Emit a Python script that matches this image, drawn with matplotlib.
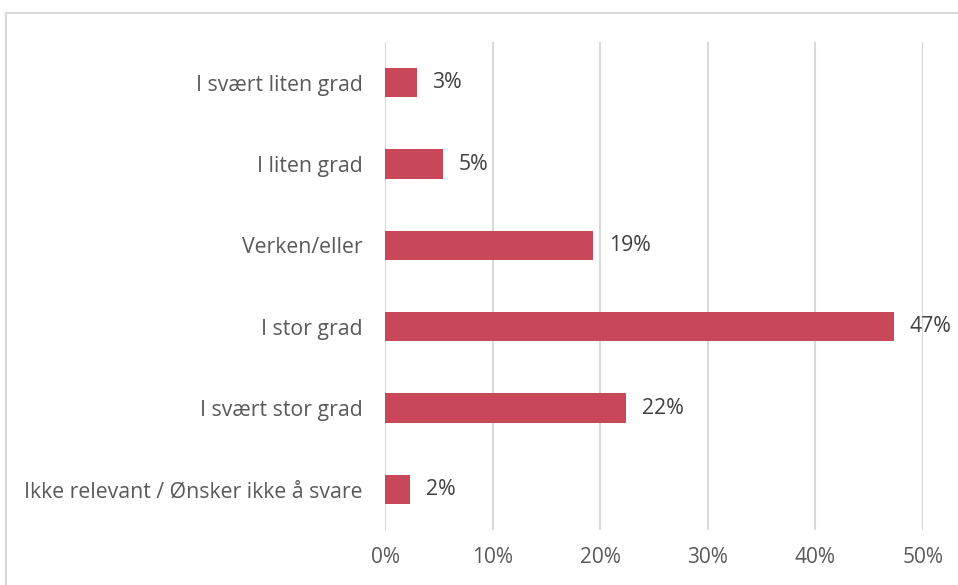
import matplotlib
matplotlib.use('Agg')
import matplotlib.pyplot as plt
from matplotlib.lines import Line2D
from matplotlib.ticker import PercentFormatter

categories = ['I svært liten grad', 'I liten grad', 'Verken/eller', 'I stor grad',
              'I svært stor grad', 'Ikke relevant / Ønsker ikke å svare']
values = [0.0297, 0.054, 0.1935, 0.473, 0.224, 0.0233]
labels = ['3%', '5%', '19%', '47%', '22%', '2%']

plt.rcParams['font.family'] = ['Open Sans', 'DejaVu Sans']

fig = plt.figure(figsize=(9.58, 5.85), dpi=100)
ax = fig.add_axes([385 / 958, 1 - 530 / 585, 538 / 958, 488 / 585])

pos = list(range(len(categories)))
ax.barh(pos, values, height=0.36, color='#C8485A', zorder=3)
for p, v, l in zip(pos, values, labels):
  ax.text(v + 0.0145, p, l, va='center', ha='left', fontsize=15.3, color='#404040')

ax.set_xlim(0, 0.5)
ax.set_ylim(len(categories) - 0.5, -0.5)
ax.set_yticks(pos)
ax.set_yticklabels(categories, fontsize=15.3, color='#595959')
ax.set_xticks([0, 0.1, 0.2, 0.3, 0.4, 0.5])
ax.xaxis.set_major_formatter(PercentFormatter(1.0, decimals=0))
ax.tick_params(axis='x', labelsize=15, labelcolor='#595959', length=0, pad=12)
ax.tick_params(axis='y', length=0, pad=16)
ax.grid(axis='x', color='#D9D9D9', linewidth=1.5, zorder=0)
for s in ax.spines.values():
  s.set_visible(False)

# outer frame of the chart area (only top and left are in view)
fig.add_artist(Line2D([5.5 / 958, 5.5 / 958], [0, 1 - 12.5 / 585], color='#D9D9D9', lw=1.5))
fig.add_artist(Line2D([5.5 / 958, 1], [1 - 12.5 / 585, 1 - 12.5 / 585], color='#D9D9D9', lw=1.5))

fig.savefig('out.png', dpi=100)
